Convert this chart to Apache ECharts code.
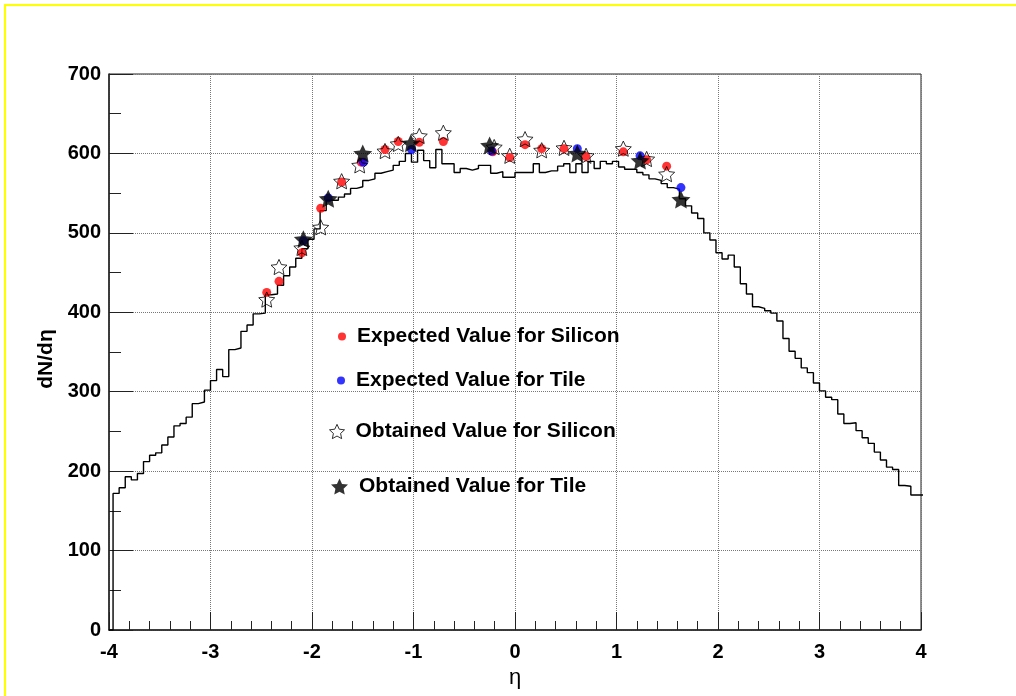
<!DOCTYPE html>
<html>
<head>
<meta charset="utf-8">
<title>dN/deta</title>
<script src="https://cdn.jsdelivr.net/npm/echarts@6/dist/echarts.min.js"></script>
<style>
  html, body { margin: 0; padding: 0; background: #fff; }
  #chart { width: 1016px; height: 696px; }
</style>
</head>
<body>
<div id="chart"></div>
<script>
// Histogram of dN/deta: fixed-width bins starting at binStart
const binStart = -3.96;
const binWidth = 0.06;
const histValues = [
  172, 179, 193, 189, 197, 212, 220, 223, 233, 243,
  257, 260, 268, 285, 287, 302, 314, 328, 319, 353,
  355, 376, 384, 398, 399, 422, 423, 434, 446, 457,
  468, 480, 492, 505, 528, 541, 541, 545, 549, 556,
  558, 566, 568, 575, 577, 579, 585, 590, 600, 589,
  604, 591, 582, 605, 587, 587, 576, 581, 579, 581,
  585, 585, 575, 577, 570, 570, 576, 576, 576, 587,
  576, 578, 578, 584, 587, 576, 587, 576, 590, 581,
  590, 587, 590, 583, 580, 580, 576, 573, 568, 566,
  562, 557, 555, 543, 534, 525, 518, 500, 491, 475,
  467, 472, 457, 436, 423, 407, 405, 402, 399, 389,
  367, 351, 342, 330, 324, 311, 301, 293, 290, 272,
  260, 261, 251, 242, 235, 224, 214, 205, 202, 182,
  181, 170, 170
];

// Expected values, silicon
const expSiEta = [-2.446, -2.325, -2.100, -1.914, -1.708, -1.515, -1.281, -1.150, -0.943, -0.706,
                  -0.220, -0.052, 0.099, 0.263, 0.483, 0.700, 1.067, 1.297, 1.494];
const expSiVal = [425, 439, 475, 531, 564, 589, 605, 615, 614, 615,
                  602, 595, 611, 606, 606, 596, 602, 592, 584];

// Expected values, tile
const expTileEta = [-2.085, -1.840, -1.494, -1.018, -0.230, 0.614, 1.232, 1.635];
const expTileVal = [490, 544, 589, 605, 603, 606, 597, 557];

// Obtained values, silicon
const obsSiEta = [-2.446, -2.325, -2.100, -1.914, -1.708, -1.530, -1.281, -1.150, -0.943, -0.706,
                  -0.205, -0.052, 0.099, 0.263, 0.483, 0.700, 1.067, 1.297, 1.494];
const obsSiVal = [416, 457, 481, 507, 565, 585, 603, 612, 622, 626,
                  608, 597, 618, 604, 607, 597, 606, 593, 574];

// Obtained values, tile
const obsTileEta = [-2.085, -1.840, -1.500, -1.026, -0.250, 0.614, 1.232, 1.635];
const obsTileVal = [492, 543, 600, 613, 610, 600, 591, 542];

const xTicksMin = -4, xTicksMax = 4;
const yTicksMin = 0, yTicksMax = 700;

const names = [
  'Expected Value for Silicon',
  'Expected Value for Tile',
  'Obtained Value for Silicon',
  'Obtained Value for Tile'
];

// Five-pointed star marker
const star = 'path://M50,0 L64.11,30.58 L97.55,34.55 L72.83,57.42 L79.39,90.45 L50,74 L20.61,90.45 L27.17,57.42 L2.45,34.55 L35.89,30.58 Z';

function zip(a, b) { return a.map((v, i) => [v, b[i]]); }

// Step outline of the histogram
function stepLine() {
  const pts = [[xTicksMin, 0], [binStart, 0]];
  histValues.forEach((v, i) => {
    const x0 = binStart + i * binWidth;
    pts.push([x0, v], [x0 + binWidth, v]);
  });
  return pts;
}

const font = 'Liberation Sans, Arial, Helvetica, sans-serif';
const labelStyle = { color: '#000', fontFamily: font, fontWeight: 'bold', fontSize: 20 };

const chart = echarts.init(document.getElementById('chart'), null, { renderer: 'canvas' });

function legendAt(name, left, top, icon, size, itemStyle) {
  return {
    data: [{ name: name, icon: icon, itemStyle: itemStyle }],
    left: left, top: top, orient: 'vertical', padding: 0,
    itemWidth: size, itemHeight: size, selectedMode: false,
    textStyle: { color: '#000', fontFamily: font, fontWeight: 'bold', fontSize: 21, padding: [0, 0, 0, 6] }
  };
}

chart.setOption({
  animation: false,
  backgroundColor: '#fff',
  graphic: [
    { type: 'line', shape: { x1: 4, y1: 5, x2: 1016, y2: 5 }, style: { stroke: '#ffff00', lineWidth: 2 } },
    { type: 'line', shape: { x1: 5, y1: 4, x2: 5, y2: 696 }, style: { stroke: '#ffff00', lineWidth: 2 } }
  ],
  grid: {
    left: 109, right: 95, top: 74, bottom: 66,
    show: true, borderColor: '#222', borderWidth: 1, backgroundColor: 'transparent'
  },
  legend: [
    legendAt(names[0], 338, 326, 'circle', 8, { color: '#ff0000' }),
    legendAt(names[1], 337, 370, 'circle', 8, { color: '#0000ff' }),
    legendAt(names[2], 329, 421, star, 15, { color: 'rgba(0,0,0,0)', borderColor: '#000', borderWidth: 1 }),
    legendAt(names[3], 331, 476, star, 17, { color: '#000' })
  ],
  xAxis: {
    type: 'value', min: xTicksMin, max: xTicksMax, interval: 1,
    name: 'η', nameLocation: 'middle', nameGap: 33,
    nameTextStyle: { color: '#000', fontFamily: font, fontSize: 22 },
    axisLine: { onZero: false, lineStyle: { color: '#222', width: 1.5 } },
    axisTick: { inside: true, length: 18, lineStyle: { color: '#222' } },
    minorTick: { show: true, splitNumber: 5, length: 9, lineStyle: { color: '#222' } },
    splitLine: { show: true, lineStyle: { type: 'dotted', color: '#777', width: 1 } },
    axisLabel: Object.assign({ margin: 12 }, labelStyle)
  },
  yAxis: {
    type: 'value', min: yTicksMin, max: yTicksMax, interval: 100,
    name: 'dN/dη', nameLocation: 'middle', nameGap: 50,
    nameTextStyle: { color: '#000', fontFamily: font, fontWeight: 'bold', fontSize: 21, padding: [0, 0, 0, -14] },
    axisLine: { show: true, onZero: false, lineStyle: { color: '#222', width: 1.5 } },
    axisTick: { inside: true, length: 24, lineStyle: { color: '#222' } },
    minorTick: { show: true, splitNumber: 2, length: 12, lineStyle: { color: '#222' } },
    splitLine: { show: true, lineStyle: { type: 'dotted', color: '#777', width: 1 } },
    axisLabel: Object.assign({ margin: 8 }, labelStyle)
  },
  series: [
    {
      type: 'line', data: stepLine(), showSymbol: false, silent: true, clip: true,
      lineStyle: { color: '#000', width: 1.4 }, z: 2
    },
    {
      name: names[0], type: 'scatter', data: zip(expSiEta, expSiVal),
      symbol: 'circle', symbolSize: 9, itemStyle: { color: '#ff0000' }, z: 3
    },
    {
      name: names[1], type: 'scatter', data: zip(expTileEta, expTileVal),
      symbol: 'circle', symbolSize: 9, itemStyle: { color: '#0000ff' }, z: 3
    },
    {
      name: names[2], type: 'scatter', data: zip(obsSiEta, obsSiVal),
      symbol: star, symbolSize: 16, symbolKeepAspect: true,
      itemStyle: { color: 'rgba(0,0,0,0)', borderColor: '#000', borderWidth: 1 }, z: 4
    },
    {
      name: names[3], type: 'scatter', data: zip(obsTileEta, obsTileVal),
      symbol: star, symbolSize: 19, symbolKeepAspect: true,
      itemStyle: { color: '#000' }, z: 5
    }
  ]
});
</script>
</body>
</html>
